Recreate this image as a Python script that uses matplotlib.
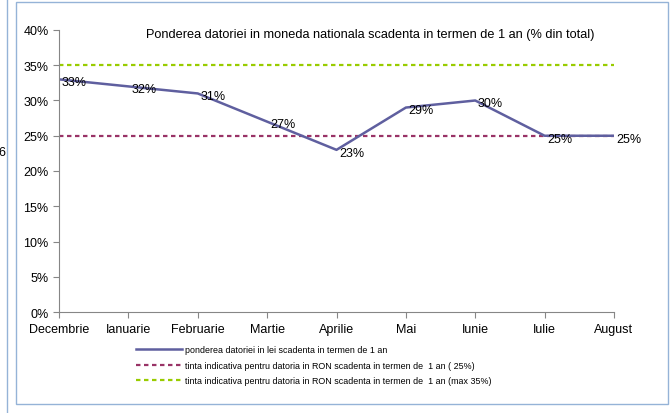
import matplotlib
matplotlib.use('Agg')
import matplotlib.pyplot as plt
from matplotlib.patches import Rectangle
from matplotlib.lines import Line2D

plt.rcParams['font.family'] = ['Liberation Sans', 'DejaVu Sans']

# data
months = ['Decembrie', 'Ianuarie', 'Februarie', 'Martie', 'Aprilie',
          'Mai', 'Iunie', 'Iulie', 'August']
share = [33, 32, 31, 27, 23, 29, 30, 25, 25]
target_25 = [25] * 9
target_35 = [35] * 9
yticks = [0, 5, 10, 15, 20, 25, 30, 35, 40]

title = 'Ponderea datoriei in moneda nationala scadenta in termen de 1 an (% din total)'
legend_labels = [
    'ponderea datoriei in lei scadenta in termen de 1 an',
    'tinta indicativa pentru datoria in RON scadenta in termen de  1 an ( 25%)',
    'tinta indicativa pentru datoria in RON scadenta in termen de  1 an (max 35%)',
]

W, H = 672, 414
fig = plt.figure(figsize=(W / 100, H / 100), dpi=100)

# chart frame and the cut-off neighbour on the left
fig.patches.append(Rectangle((16 / W, 1 - 405 / H), (668 - 16) / W, (405 - 3) / H,
                             transform=fig.transFigure, fill=False,
                             edgecolor='#95b3d7', linewidth=1.0))
fig.lines.append(Line2D([7 / W, 7 / W], [0, 1], transform=fig.transFigure,
                        color='#95b3d7', linewidth=1.0))
fig.text(5 / W, 1 - 153 / H, '6', ha='right', va='center', fontsize=9)

ax = fig.add_axes([59 / W, 1 - 313 / H, (614 - 59) / W, (313 - 31) / H])
x = list(range(len(months)))

ax.plot(x, target_25, color='#993366', linewidth=1.6, linestyle=(0, (2, 1.6)))
ax.plot(x, target_35, color='#99cc00', linewidth=1.6, linestyle=(0, (2, 1.6)))
ax.plot(x, share, color='#5f5f9f', linewidth=1.8)

for xi, v in zip(x, share):
    ax.annotate(f'{v}%', (xi, v), xytext=(2, -2), textcoords='offset points',
                ha='left', va='center', fontsize=9)

ax.set_xlim(0, len(months) - 1)
ax.set_ylim(0, 40)
ax.set_yticks(yticks)
ax.set_yticklabels([f'{t}%' for t in yticks])
ax.set_xticks(x)
ax.set_xticklabels(months)
ax.tick_params(axis='both', labelsize=9, color='#868686', length=4, width=0.8)
ax.tick_params(axis='x', pad=4)
for s in ['top', 'right']:
    ax.spines[s].set_visible(False)
for s in ['left', 'bottom']:
    ax.spines[s].set_color('#868686')
    ax.spines[s].set_linewidth(0.8)
ax.patch.set_alpha(0)

ax.text(0.56, 0.985, title, transform=ax.transAxes, ha='center', va='center',
        fontsize=9.2)

handles = [
    Line2D([], [], color='#5f5f9f', linewidth=1.8),
    Line2D([], [], color='#993366', linewidth=1.6, linestyle=(0, (2, 1.6))),
    Line2D([], [], color='#99cc00', linewidth=1.6, linestyle=(0, (2, 1.6))),
]
fig.legend(handles, legend_labels, loc='upper left',
           bbox_to_anchor=(136 / W, 1 - 346 / H), frameon=False,
           fontsize=6.4, handlelength=5.2, handletextpad=0.35, labelspacing=0.75,
           borderpad=0, borderaxespad=0)

fig.savefig('out.png', dpi=100)
